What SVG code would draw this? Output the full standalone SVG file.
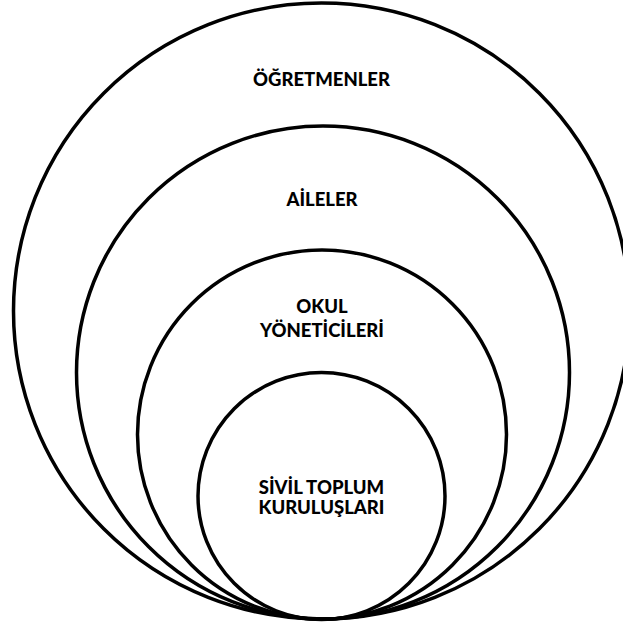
<svg xmlns="http://www.w3.org/2000/svg" width="623" height="628" viewBox="0 0 623 628">
<style>
.c{fill:none;stroke:#000;stroke-width:3.5}
.t{font-family:Lato,"Open Sans","Liberation Sans",sans-serif;font-weight:900;font-size:18.5px;fill:#000;text-anchor:middle}
</style>
<rect width="623" height="628" fill="#fff"/>
<g id="ogretmenler">
<circle class="c" cx="321.5" cy="311" r="308"/>
<text class="t" x="321.5" y="86">ÖĞRETMENLER</text>
</g>
<g id="aileler">
<circle class="c" cx="323" cy="372.5" r="246.5"/>
<text class="t" x="322" y="206">AİLELER</text>
</g>
<g id="okul-yoneticileri">
<circle class="c" cx="322" cy="434.5" r="184.5"/>
<text class="t" x="322" y="313">OKUL</text>
<text class="t" x="322" y="337">YÖNETİCİLERİ</text>
</g>
<g id="sivil-toplum">
<circle class="c" cx="321.5" cy="496" r="123.5"/>
<text class="t" x="321.5" y="494">SİVİL TOPLUM</text>
<text class="t" x="321.5" y="514">KURULUŞLARI</text>
</g>
<g id="connectors"/>
</svg>
